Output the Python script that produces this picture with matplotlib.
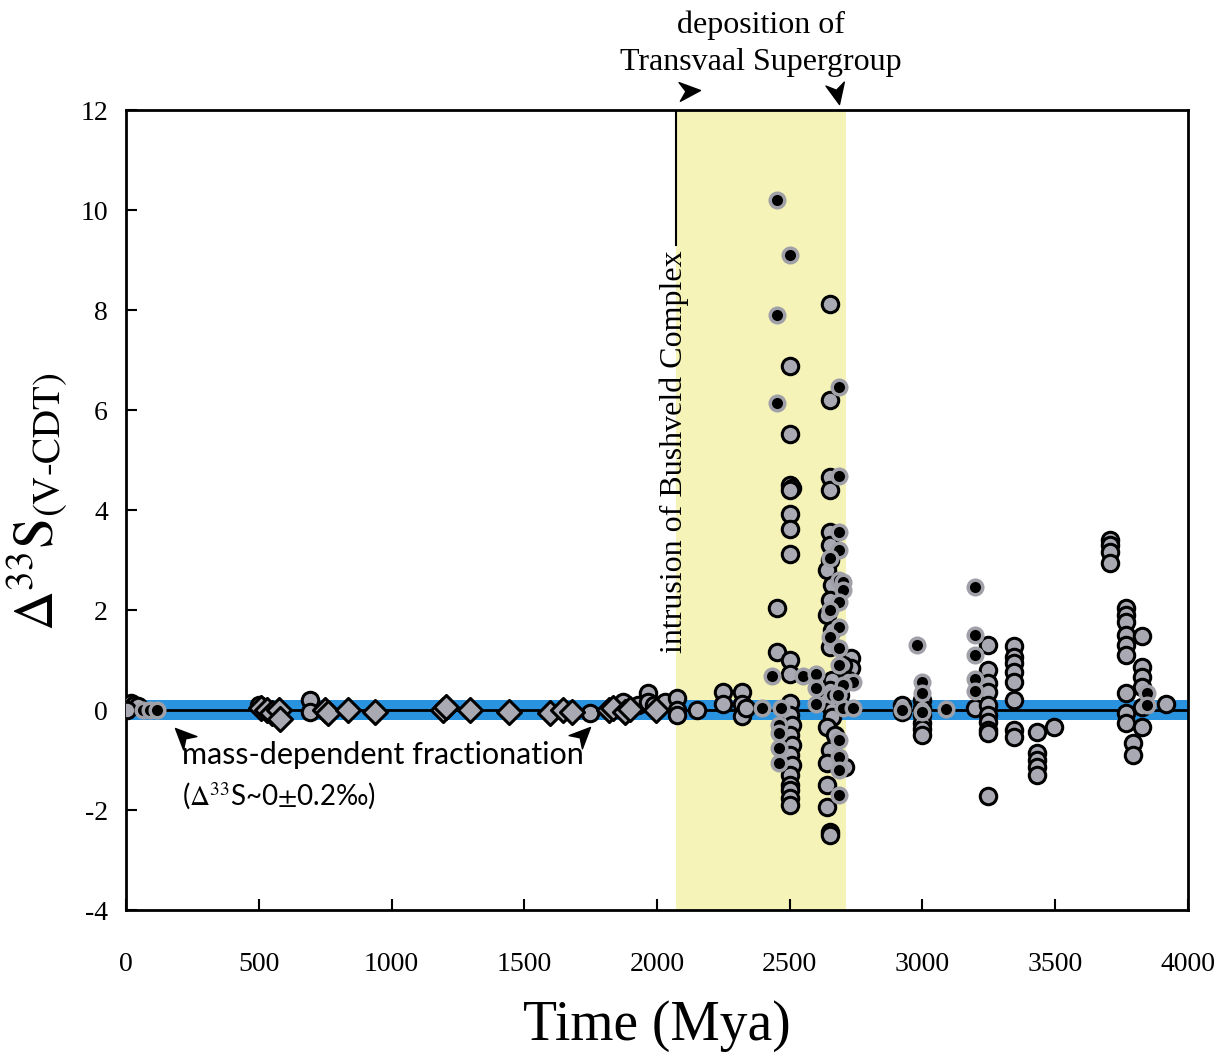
import numpy as np
import matplotlib
matplotlib.use("Agg")
import matplotlib.pyplot as plt
from matplotlib.path import Path
from matplotlib.markers import MarkerStyle
from matplotlib.transforms import Affine2D

# gray circles (age Mya, D33S)
gray_x = [0, 10, 20, 30, 45, 5,
          500, 693, 693, 1748, 1872, 1900, 1930, 1966, 1966, 1990, 2000, 2030,
          2075, 2075, 2075, 2150, 2248, 2248, 2320, 2320, 2320, 2335,
          2452, 2452,
          2500, 2500, 2500, 2510, 2500, 2500, 2500, 2500, 2500, 2500, 2500, 2500,
          2510, 2500, 2510, 2500, 2510, 2500, 2500, 2500, 2500, 2500,
          2650, 2650, 2650, 2650, 2650, 2650, 2650, 2640, 2660, 2650, 2640, 2660,
          2650, 2730, 2730, 2660, 2650, 2640, 2660, 2660, 2640, 2670, 2650, 2640,
          2710, 2640, 2640, 2650, 2650, 2690, 2700, 2720,
          2923, 2923, 3000, 3000, 3000, 3000, 3000, 3000, 3198,
          3247, 3247, 3247, 3247, 3247, 3247, 3247, 3247, 3247, 3247,
          3345, 3345, 3345, 3345, 3345, 3345, 3345, 3345,
          3431, 3431, 3431, 3431, 3431, 3496,
          3706, 3706, 3706, 3706, 3766, 3766, 3766, 3766, 3766, 3766, 3827,
          3766, 3827, 3827, 3827, 3827, 3766, 3766, 3827, 3793, 3793, 3917]
gray_y = [0.12, 0.1, 0.14, 0.1, 0.08, 0.0,
          0.1, 0.2, -0.04, -0.06, 0.16, 0.05, 0.1, 0.34, 0.16, 0.1, 0.02, 0.16,
          0.24, 0.0, -0.1, 0.0, 0.36, 0.12, 0.36, 0.12, -0.12, 0.04,
          2.04, 1.16,
          6.88, 5.52, 4.5, 4.45, 4.4, 3.93, 3.62, 3.12, 1.0, 0.72, 0.14, -0.1,
          -0.3, -0.5, -0.7, -0.9, -1.1, -1.3, -1.5, -1.6, -1.75, -1.9,
          8.12, 6.2, 4.66, 4.4, 3.56, 3.3, 3.0, 2.8, 2.5, 2.2, 1.9, 1.6,
          1.26, 1.04, 0.84, 0.6, 0.4, 0.2, 0.0, -0.14, -0.34, -0.5, -0.8, -1.06,
          -1.14, -1.5, -1.94, -2.44, -2.5, 0.3, 0.9, 0.6,
          0.1, -0.04, 0.2, 0.05, -0.1, -0.25, -0.38, -0.5, 0.04,
          1.3, 0.8, 0.54, 0.36, 0.1, -0.1, -0.24, -0.4, -0.46, -1.72,
          1.28, 1.06, 0.94, 0.76, 0.56, 0.2, -0.4, -0.54,
          -0.44, -0.86, -1.0, -1.14, -1.3, -0.34,
          3.4, 3.3, 3.16, 2.94, 2.04, 1.9, 1.76, 1.5, 1.3, 1.1, 1.48,
          0.34, 0.86, 0.66, 0.46, 0.06, -0.06, -0.26, -0.34, -0.66, -0.9, 0.12]

# black dots
black_x = [64, 90, 117, 2396, 2467,
           2452, 2452, 2452, 2435, 2460, 2460, 2460, 2460,
           2500, 2550, 2600, 2600, 2600,
           2685, 2685, 2685, 2685, 2650, 2685, 2700, 2700, 2685, 2650, 2685, 2650,
           2685, 2685, 2740, 2700, 2700, 2740, 2685, 2685, 2685, 2685, 2660, 2680,
           2923, 2979, 3000, 3000, 3000, 3089, 3198, 3198, 3198, 3198, 3198,
           3845, 3845]
black_y = [0.0, 0.0, 0.0, 0.04, 0.04,
           10.2, 7.9, 6.15, 0.68, -0.3, -0.46, -0.76, -1.06,
           9.1, 0.68, 0.73, 0.44, 0.12,
           6.46, 4.68, 3.56, 3.2, 3.04, 2.6, 2.56, 2.4, 2.16, 2.0, 1.66, 1.46,
           1.24, 0.9, 0.56, 0.5, 0.04, 0.04, -0.6, -0.94, -1.2, -1.7, 0.3, 0.3,
           0.0, 1.3, 0.56, 0.34, -0.04, 0.02, 2.46, 1.5, 1.1, 0.62, 0.38,
           0.34, 0.1]

# diamonds
diam_x = [510, 530, 550, 575, 580, 750, 760, 836, 938, 1195, 1205, 1296, 1443,
          1597, 1647, 1680, 1820, 1834, 1880, 1900, 1996]
diam_y = [0.05, 0.0, -0.05, 0.0, -0.18, 0.0, -0.06, 0.0, -0.04, 0.0, 0.06, 0.0,
          -0.04, -0.06, 0.0, -0.04, 0.0, 0.04, -0.04, 0.02, 0.0]

# arrowheads: tip position and pointing angle (deg)
arrow_x = [185, 1748, 2162, 2685]
arrow_y = [-0.36, -0.34, 12.4, 12.12]
arrow_ang = [135, 45, 4, -78]

plt.rcParams['mathtext.fontset'] = 'stix'
plt.rcParams['axes.unicode_minus'] = False
serif = 'Liberation Serif'

fig = plt.figure(figsize=(12.31, 10.53), dpi=100)
ax = fig.add_axes([0.1024, 0.1358, 0.8626, 0.7597])

ax.axvspan(2070, 2712, color='#f5f3b8', zorder=0, lw=0)
ax.axhspan(-0.2, 0.2, color='#2a93e0', zorder=1, lw=0)
ax.axhline(0, color='black', lw=2, zorder=2)
ax.plot([2070, 2070], [9.3, 12], color='black', lw=1.5, zorder=2)

ax.scatter(gray_x, gray_y, s=140, c='#a9a9b3', edgecolors='black', linewidths=2.2, zorder=3)
ax.scatter(black_x, black_y, s=110, c='black', edgecolors='#a0a0a8', linewidths=2.5, zorder=4)
ax.scatter(diam_x, diam_y, s=150, marker='D', c='#a9a9b3', edgecolors='black', linewidths=2.2, zorder=5)

ax.set_xlim(0, 4000)
ax.set_ylim(-4, 12)
ax.set_xticks(range(0, 4001, 500))
ax.set_yticks(range(-4, 13, 2))
ax.tick_params(direction='in', length=8, width=1.5, labelsize=20)
ax.tick_params(axis='x', pad=30)
ax.tick_params(axis='y', pad=13)
for lab in ax.get_xticklabels() + ax.get_yticklabels():
    lab.set_fontfamily(serif)
for sp in ax.spines.values():
    sp.set_linewidth(2)

ax.set_xlabel('Time (Mya)', fontsize=40, family=serif, labelpad=17)
ax.set_ylabel(r'$\Delta^{33}\mathrm{S}_{(\mathrm{V}\text{-}\mathrm{CDT})}$', fontsize=40)
ax.yaxis.set_label_coords(-0.053, 0.51)

ax.text(2066, 5.16, 'intrusion of Bushveld Complex', rotation=90, ha='center', va='center',
        fontsize=23, family=serif, zorder=6)
ax.text(2390, 12.66, 'deposition of\nTransvaal Supergroup', ha='center', va='bottom',
        fontsize=23, family=serif, linespacing=1.35, clip_on=False)

ax.text(210, -0.9, 'mass-dependent fractionation', fontsize=22, family='Lato',
        ha='left', va='center')
ax.text(210, -1.72, r'($\Delta^{33}$S~0$\pm$0.2‰)', fontsize=20, family='Lato',
        ha='left', va='center')

stealth = Path([(0, 0), (-1, 0.45), (-0.7, 0), (-1, -0.45), (0, 0)],
               [Path.MOVETO, Path.LINETO, Path.LINETO, Path.LINETO, Path.CLOSEPOLY])
for xa, ya, ang in zip(arrow_x, arrow_y, arrow_ang):
    m = MarkerStyle(stealth, transform=Affine2D().rotate_deg(ang))
    ax.plot([xa], [ya], marker=m, markersize=30, color='black', lw=0,
            clip_on=False, zorder=6)

fig.savefig('out.png', dpi=100)
